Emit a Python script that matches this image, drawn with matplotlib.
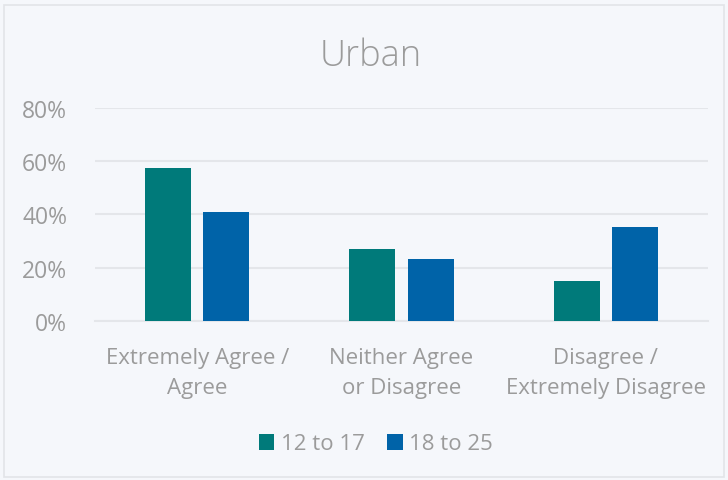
import matplotlib
matplotlib.use("Agg")
import matplotlib.pyplot as plt
from matplotlib.patches import Rectangle
import numpy as np

categories = ["Extremely Agree /\nAgree", "Neither Agree\nor Disagree", "Disagree /\nExtremely Disagree"]
series_names = ["12 to 17", "18 to 25"]
vals_12_17 = [57.3, 27.0, 15.0]
vals_18_25 = [41.0, 23.4, 35.2]
yticks = [0, 20, 40, 60, 80]
ytick_labels = ["0%", "20%", "40%", "60%", "80%"]

BG = "#F5F7FB"
TEXT = "#9B9B9B"
GRID = "#E4E6EA"
colors = ["#007A7A", "#0063A8"]

plt.rcParams['font.family'] = ['Open Sans', 'DejaVu Sans']

fig = plt.figure(figsize=(7.28, 4.81), dpi=100, facecolor=BG)
W, H = 728, 481
ax = fig.add_axes([95 / W, 1 - 322 / H, (708 - 95) / W, (322 - 109) / H])
ax.set_facecolor(BG)

x = np.arange(len(categories))
bw = 0.225
off = 0.143
ax.bar(x - off, vals_12_17, bw, color=colors[0], label=series_names[0], zorder=3)
ax.bar(x + off, vals_18_25, bw, color=colors[1], label=series_names[1], zorder=3)

ax.set_xlim(-0.5, 2.5)
ax.set_ylim(0, 80)
ax.set_yticks(yticks)
ax.set_yticklabels(ytick_labels)
ax.yaxis.grid(True, color=GRID, linewidth=1.5, zorder=0)
ax.set_axisbelow(True)
for s in ["top", "right", "left"]:
    ax.spines[s].set_visible(False)
ax.spines["bottom"].set_color(GRID)
ax.spines["bottom"].set_linewidth(1.5)
ax.tick_params(axis="both", length=0, colors=TEXT)
ax.tick_params(axis="y", pad=20, labelsize=16.5)
ax.tick_params(axis="x", pad=18.5, labelsize=16)
ax.set_xticks(x)
ax.set_xticklabels(categories, linespacing=1.6)

fig.text(371 / W, 1 - 57 / H, "Urban", ha="center", va="center", fontsize=26, color=TEXT, fontweight="light")

leg = fig.legend(loc="center", bbox_to_anchor=(376 / W, 1 - 445 / H), ncol=2, frameon=False,
                 fontsize=16, labelcolor=TEXT, handlelength=0.7, handleheight=0.7,
                 handletextpad=0.3, columnspacing=1.0)

fig.patches.append(Rectangle((4 / W, 1 - 478 / H), 720 / W, 472 / H, transform=fig.transFigure,
                             fill=False, edgecolor="#E2E4E8", linewidth=1.2))

fig.savefig("out.png", dpi=100, facecolor=BG)
